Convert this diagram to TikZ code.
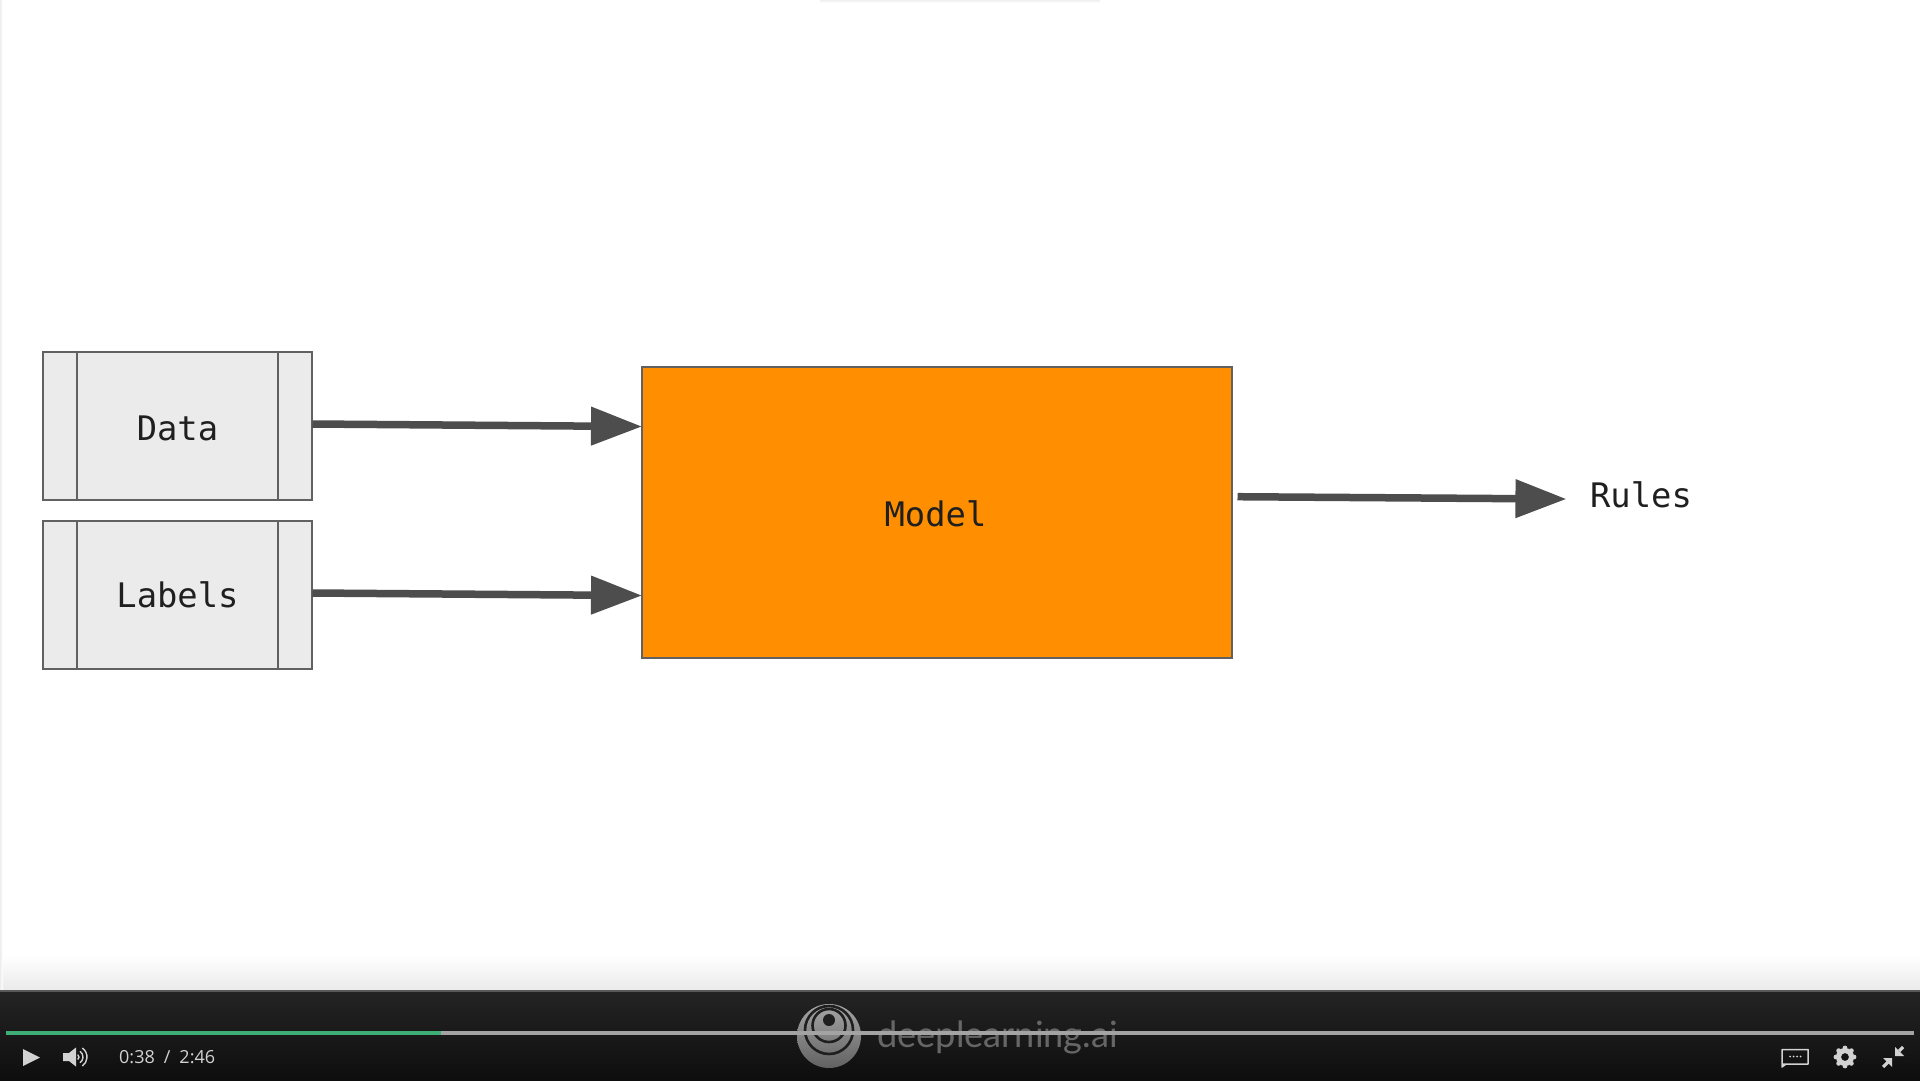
\documentclass[tikz,border=0pt]{standalone}
\usepackage{fontspec}
\setmonofont{DejaVu Sans Mono}
\setsansfont{Open Sans}
\newfontfamily\logofont{Lato}
\usetikzlibrary{positioning, arrows.meta, calc, shapes.geometric}
\definecolor{boxfill}{HTML}{EBEBEB}
\definecolor{edgegray}{HTML}{616161}
\definecolor{arrowgray}{HTML}{4D4D4D}
\definecolor{modelorange}{HTML}{FF8F00}
\definecolor{bartop}{HTML}{242424}
\definecolor{barbottom}{HTML}{0E0E0E}
\definecolor{progressgreen}{HTML}{3FAE76}
\definecolor{trackgray}{HTML}{A3A3A3}
\definecolor{icongray}{HTML}{D2D2D2}
\tikzset{
  databox/.style={draw=edgegray, fill=boxfill, line width=2pt, minimum width=269pt, minimum height=148pt, inner sep=0pt},
  modelbox/.style={draw=edgegray, fill=modelorange, line width=2pt, minimum width=590pt, minimum height=291pt, inner sep=0pt},
  plaintext/.style={inner sep=0pt, text=black!88, font=\ttfamily\fontsize{33.8}{36}\selectfont},
  flow/.style={draw=arrowgray, line width=7.5pt, -{Triangle[length=51pt, width=37pt]}, shorten >=-1.5pt},
  innerline/.style={draw=edgegray, line width=2pt},
  icon/.style={fill=icongray, draw=none}
}
\begin{document}
\begin{tikzpicture}[x=1pt, y=-1pt]
\useasboundingbox (0,0) rectangle (1920,1080);
\fill[white] (0,0) rectangle (1920,1080);
\shade[top color=white, bottom color=black!8] (0,955) rectangle (1920,990);
\shade[left color=black!7, right color=white] (0,0) rectangle (2.5,990);
\shade[top color=black!6, bottom color=white] (820,0) rectangle (1100,3);
\node[databox] (data) at (177,425.5) {};
\node[plaintext] at (177.5,428) {Data};
\node[databox, below=19pt of data] (labels) {};
\node[plaintext] at (177.5,595) {Labels};
\draw[innerline] ([xshift=35pt]data.north west)--([xshift=35pt]data.south west);
\draw[innerline] ([xshift=-35pt]data.north east)--([xshift=-35pt]data.south east);
\draw[innerline] ([xshift=35pt]labels.north west)--([xshift=35pt]labels.south west);
\draw[innerline] ([xshift=-35pt]labels.north east)--([xshift=-35pt]labels.south east);
\node[modelbox] (model) at (936.5,512) {};
\node[plaintext] at (935.5,514) {Model};
\node[plaintext] (rules) at (1641,495) {Rules};
\draw[flow] ([yshift=1.5pt]data.east)--([yshift=-1pt]data.east -| model.west);
\draw[flow] ([yshift=1.5pt]labels.east)--([yshift=-1pt]labels.east -| model.west);
\draw[flow] ([xshift=5pt,yshift=15.3pt]model.east)--([xshift=-25pt,yshift=-4pt]rules.west);
% player bar
\shade[top color=bartop, bottom color=barbottom] (0,990) rectangle (1920,1080);
\fill[black!65] (0,990) rectangle (1920,991.5);
\shade[top color=black!35, bottom color=black!62] (829,1036) circle (32);
\draw[black!88, line width=2.6pt] (829,1025.5) circle (16.5);
\draw[black!88, line width=2.6pt] (829,1030) circle (24);
\fill[black!88] (829,1020) circle (6);
\node[font=\logofont\fontsize{36.2}{38}\selectfont, text=white!40!black, anchor=base west, inner sep=0pt] (logo) at (877,1047) {deeplearning.ai};
\fill[trackgray] (441,1031) rectangle (1914,1034.5);
\fill[progressgreen] (6,1031) rectangle (441,1034.5);
% controls
\fill[icon] (23,1049)--(40,1057.5)--(23,1066)--cycle;
\fill[icon] (63,1053)--(69,1053)--(76,1047.5)--(76,1066.5)--(69,1061)--(63,1061)--cycle;
\foreach \r in {3,7,11} \draw[icongray, line width=1.4pt] (76,1057) ++(-55:\r) arc (-55:55:\r);
\node[font=\sffamily\fontsize{18}{18}\selectfont, text=icongray, anchor=west, inner sep=0pt] (timer) at (119,1057.5) {0:38\hspace{9pt}/\hspace{9pt}2:46};
\draw[icongray, line width=1.5pt, line join=round] (1782,1049.5) rectangle (1808,1064)  (1782,1064)--(1782,1067)--(1786,1064);
\foreach \x in {1790,1793.5,1797,1800.5} \fill[icongray] (\x,1056.5) circle (1);
\foreach \a in {0,45,...,315} \fill[icongray] (1845,1057) ++(\a:9) circle (2.4);
\fill[icongray, even odd rule] (1845,1057) circle (9) (1845,1057) circle (4);
\draw[icongray, line width=3.2pt] (1883,1067)--(1888,1062) (1903,1047)--(1899,1051);
\fill[icongray] (1892,1058)--(1883,1058)--(1892,1067)--cycle;
\fill[icongray] (1895,1056)--(1904,1056)--(1895,1047)--cycle;
\end{tikzpicture}
\end{document}
